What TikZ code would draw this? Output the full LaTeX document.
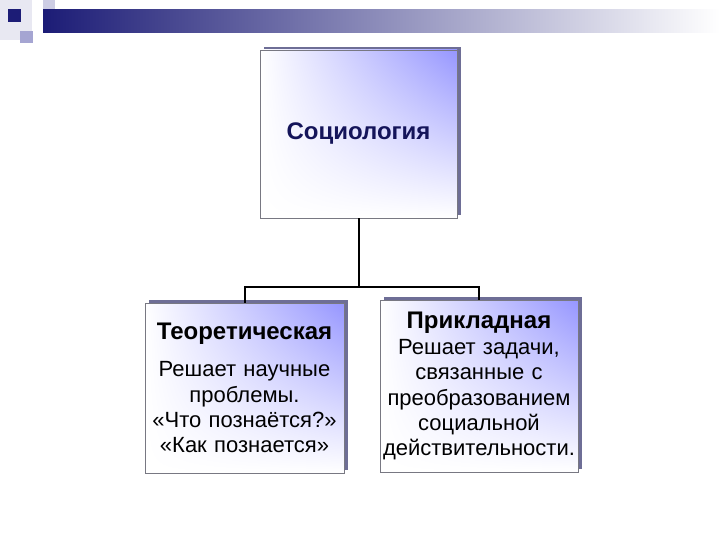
\documentclass[tikz,border=0pt]{standalone}
\usepackage{fontspec}
\setmainfont{Liberation Sans}
\usetikzlibrary{shadows,shadings}
\definecolor{barnavy}{RGB}{28,28,118}
\definecolor{barmid}{RGB}{140,140,180}
\definecolor{boxblue}{RGB}{150,150,255}
\definecolor{boxedge}{RGB}{120,120,130}
\definecolor{boxshadow}{RGB}{110,110,150}
\definecolor{titlenavy}{RGB}{20,20,90}
\definecolor{decopale}{RGB}{232,232,242}
\definecolor{decolight}{RGB}{205,205,228}
\definecolor{decomid}{RGB}{165,165,210}
\begin{document}
\begin{tikzpicture}[x=1pt,y=-1pt,
        box/.style = {draw=boxedge, line width=0.6pt, shade,
            upper right=boxblue, upper left=white, lower left=white, lower right=white,
            drop shadow={shadow xshift=4pt, shadow yshift=3pt, fill=boxshadow, opacity=1},
            align=center, inner sep=0pt, font=\fontsize{22}{25.3}\selectfont},
        link/.style = {line width=2pt}
    ]
        \useasboundingbox (0,0) rectangle (720,540);
        \fill[decopale] (0,0) rectangle (32,40);
        \fill[decolight] (43,0) rectangle (55,21);
        \fill[decomid] (20,31) rectangle (33,43);
        \fill[barnavy] (8,9) rectangle (21,22);
        \shade[left color=barnavy, middle color=barmid, right color=white] (43,10) rectangle (720,33);
        \node[box, minimum width=197pt, minimum height=168pt] (soc) at (358.5,134)
            {\textcolor{titlenavy}{\fontsize{24}{25}\selectfont\bfseries Социология}};
        \node[box, minimum width=199pt, minimum height=170pt, text width=197pt] (theo) at (244.5,388)
            {{\fontsize{24}{25}\selectfont\bfseries Теоретическая}\\[12pt] Решает научные\\ проблемы.\\ «Что познаётся?»\\ «Как познается»};
        \node[box, minimum width=198pt, minimum height=172pt, text width=196pt] (appl) at (479,386)
            {{\fontsize{24}{25}\selectfont\bfseries Прикладная}\\[1pt] Решает задачи,\\ связанные с\\ преобразованием\\ социальной\\ действительности.};
        \coordinate (bus) at (358.5,287);
        \draw[link] (soc.south) -- (bus);
        \draw[link] (theo.north) |- (bus) -| (appl.north);
    \end{tikzpicture}
\end{document}
